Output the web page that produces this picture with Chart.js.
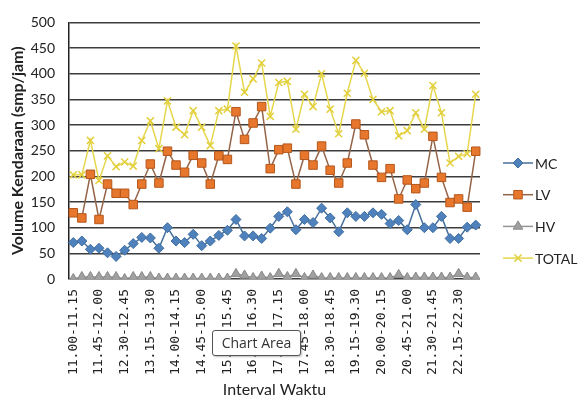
<!DOCTYPE html>
<html>
<head>
<meta charset="utf-8">
<script src="https://cdn.jsdelivr.net/npm/chart.js@4.4.1/dist/chart.umd.min.js"></script>
<style>
  html, body { margin: 0; padding: 0; background: #fff; }
  #wrap { position: relative; width: 579px; height: 399px; }
  #tip {
    position: absolute; left: 212px; top: 330px; width: 87px; height: 24px;
    border: 1px solid #555; border-radius: 3px; background: #fff;
    font: 14px "Open Sans", sans-serif; color: #333; line-height: 24px;
    text-align: center; box-shadow: 1px 1px 2px rgba(0,0,0,.25);
  }
</style>
</head>
<body>
<div id="wrap">
  <canvas id="c" width="579" height="399"></canvas>
  <div id="tip">Chart Area</div>
</div>
<script>
// 15-minute counting intervals
const intervals = [
  "11.00-11.15","11.15-11.30","11.30-11.45","11.45-12.00","12.00-12.15","12.15-12.30",
  "12.30-12.45","12.45-13.00","13.00-13.15","13.15-13.30","13.30-13.45","13.45-14.00",
  "14.00-14.15","14.15-14.30","14.30-14.45","14.45-15.00","15.00-15.15","15.15-15.30",
  "15.30-15.45","15.45-16.00","16.00-16.15","16.15-16.30","16.30-16.45","16.45-17.00",
  "17.00-17.15","17.15-17.30","17.30-17.45","17.45-18.00","18.00-18.15","18.15-18.30",
  "18.30-18.45","18.45-19.00","19.00-19.15","19.15-19.30","19.30-19.45","19.45-20.00",
  "20.00-20.15","20.15-20.30","20.30-20.45","20.45-21.00","21.00-21.15","21.15-21.30",
  "21.30-21.45","21.45-22.00","22.00-22.15","22.15-22.30","22.30-22.45","22.45-23.00"
];

// Volume per vehicle class (smp/jam)
const mc = [71,74,58,60,51,44,56,69,81,80,60,100,74,71,87,65,74,85,95,116,
            84,84,79,99,122,131,96,116,110,138,119,92,129,122,122,129,126,108,114,
            96,145,100,100,122,79,79,101,105];
const lv = [129,119,204,116,185,167,167,145,185,224,187,249,222,208,241,226,185,240,233,326,
            272,304,336,215,252,255,185,241,222,259,212,187,226,302,281,222,198,215,156,
            193,176,187,278,198,149,156,140,249];
const hv = [0,4,4,4,4,4,0,4,4,4,1,1,1,1,1,1,1,1,1,10,
            7,2,5,2,10,4,10,2,7,2,2,2,2,2,2,2,2,2,8,
            2,3,3,3,3,3,10,3,3];
const total = [203,203,270,192,240,219,228,220,270,308,254,347,296,281,328,296,260,328,331,454,
               364,390,421,317,383,385,292,360,336,400,331,283,362,426,401,350,326,328,279,
               289,324,292,377,324,226,239,244,360];

const yTicks = [0, 50, 100, 150, 200, 250, 300, 350, 400, 450, 500];

// Legend on the right: a short line with the series marker in the middle
const sideLegend = {
  id: 'sideLegend',
  afterDraw(chart) {
    const ctx = chart.ctx;
    const x0 = chart.chartArea.right + 23, x1 = x0 + 30;
    const dp = Chart.helpers && Chart.helpers.drawPoint;
    chart.data.datasets.forEach((ds, i) => {
      const y = 163 + i * 31.7;
      ctx.save();
      ctx.strokeStyle = ds.borderColor;
      ctx.lineWidth = ds.borderWidth;
      ctx.beginPath(); ctx.moveTo(x0, y); ctx.lineTo(x1, y); ctx.stroke();
      ctx.fillStyle = ds.pointBackgroundColor;
      ctx.strokeStyle = ds.pointBorderColor;
      ctx.lineWidth = ds.pointBorderWidth;
      if (dp) {
        dp(ctx, { pointStyle: ds.pointStyle, radius: ds.pointRadius, rotation: 0,
                  borderWidth: ds.pointBorderWidth }, (x0 + x1) / 2, y);
      }
      ctx.fillStyle = '#222';
      ctx.font = '14px Lato';
      ctx.textBaseline = 'middle';
      ctx.textAlign = 'left';
      ctx.fillText(ds.label, x1 + 2, y + 1);
      ctx.restore();
    });
  }
};

const whiteBg = {
  id: 'whiteBg',
  beforeDraw(chart) {
    const ctx = chart.ctx;
    ctx.save(); ctx.fillStyle = '#fff';
    ctx.fillRect(0, 0, chart.width, chart.height); ctx.restore();
  }
};

function series(label, data, line, fill, edge, style, radius, order) {
  return {
    label, data, order,
    borderColor: line, borderWidth: 1.5, tension: 0,
    pointStyle: style, pointRadius: radius, pointHoverRadius: radius,
    pointBackgroundColor: fill, pointBorderColor: edge, pointBorderWidth: 1
  };
}

new Chart(document.getElementById('c'), {
  type: 'line',
  data: {
    labels: intervals,
    datasets: [
      series('MC', mc, '#47709C', '#4F81BD', '#3F6E9F', 'rectRot', 5, 3),
      series('LV', lv, '#946448', '#E8772E', '#B4561A', 'rect', 6, 2),
      series('HV', hv, '#959595', '#A0A0A0', '#888888', 'triangle', 5.5, 1),
      Object.assign(series('TOTAL', total, '#E6D64C', '#E6D64C', '#E2CF3C', 'crossRot', 5, 0),
                    { pointBorderWidth: 1.5 })
    ]
  },
  options: {
    responsive: false,
    devicePixelRatio: 1,
    animation: false,
    layout: { padding: { top: 18, right: 99, bottom: 0, left: 0 } },
    plugins: { legend: { display: false }, tooltip: { enabled: false } },
    scales: {
      x: {
        offset: true,
        grid: { display: false, drawTicks: false },
        border: { display: false },
        ticks: {
          autoSkip: false, minRotation: 90, maxRotation: 90, padding: 10,
          color: '#222', font: { family: 'DejaVu Sans Mono', size: 13 },
          callback: (v, i) => (i % 3 === 0 ? intervals[i] : '')
        },
        title: {
          display: true, text: 'Interval Waktu', color: '#222',
          font: { family: 'Lato', size: 16 }, padding: { top: 0, bottom: 0 }
        },
        afterFit: (s) => { s.height = 120; }
      },
      y: {
        min: 0, max: 500,
        afterBuildTicks: (s) => { s.ticks = yTicks.map(v => ({ value: v })); },
        grid: { color: '#3c3c3c', lineWidth: 1.5, drawTicks: false },
        border: { display: true, color: '#222', width: 1.5 },
        ticks: { padding: 14, color: '#222', font: { family: 'Lato', size: 14 } },
        title: {
          display: true, text: 'Volume Kendaraan (smp/jam)', color: '#222',
          font: { family: 'Lato', size: 16, weight: 'bold' }, padding: { top: 8, bottom: 0 }
        },
        afterFit: (s) => { s.width = 69; }
      }
    }
  },
  plugins: [whiteBg, sideLegend]
});
</script>
</body>
</html>
